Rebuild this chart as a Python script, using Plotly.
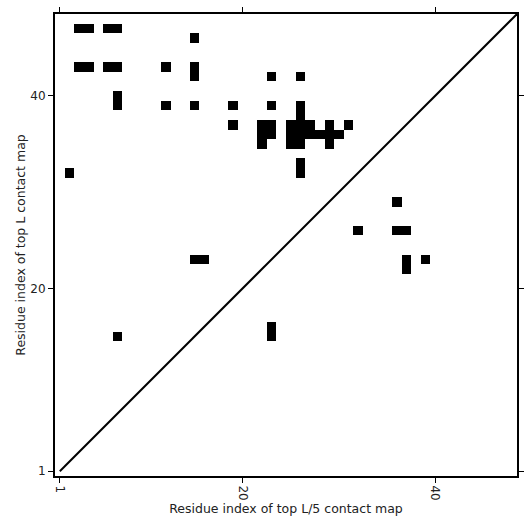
import numpy as np
import plotly.graph_objects as go

L = 48
# Upper triangle: top L contacts (x, y)
top_L_x = [3, 4, 6, 7, 15, 3, 4, 6, 7, 12, 15, 15, 23, 26, 7, 7, 12, 15, 19, 23, 26, 26,
           19, 22, 23, 25, 26, 27, 29, 31, 22, 23, 25, 26, 27, 28, 29, 30, 22, 25, 26, 29,
           26, 26, 2, 15, 16, 7]
top_L_y = [47, 47, 47, 47, 46, 43, 43, 43, 43, 43, 43, 42, 42, 42, 40, 39, 39, 39, 39, 39, 39, 38,
           37, 37, 37, 37, 37, 37, 37, 37, 36, 36, 36, 36, 36, 36, 36, 36, 35, 35, 35, 35,
           33, 32, 32, 23, 23, 15]
# Lower triangle: top L/5 contacts (x, y)
top_L5_x = [36, 36, 37, 32, 37, 37, 39, 23, 23]
top_L5_y = [29, 26, 26, 26, 23, 22, 23, 16, 15]

idx = list(range(1, L + 1))
z = np.zeros((L, L))
for xs, ys in ((top_L_x, top_L_y), (top_L5_x, top_L5_y)):
    for x, y in zip(xs, ys):
        z[y - 1, x - 1] = 1

fig = go.Figure()
fig.add_trace(go.Heatmap(z=z, x=idx, y=idx, colorscale=[[0, "white"], [1, "black"]],
                         showscale=False, zmin=0, zmax=1, hoverinfo="skip"))
diag = [1, L + 0.5]
fig.add_trace(go.Scatter(x=diag, y=diag, mode="lines",
                         line=dict(color="black", width=2), showlegend=False))

font = dict(family="DejaVu Sans", size=12.5, color="#222")
axis_common = dict(range=[0.5, L + 0.5], tickvals=[1, 20, 40], showgrid=False, zeroline=False,
                   showline=True, linecolor="black", linewidth=2, mirror="ticks",
                   ticks="outside", ticklen=5, tickwidth=1, tickcolor="black",
                   tickfont=dict(family="DejaVu Sans", size=12, color="#222"),
                   automargin=False)
fig.update_layout(
    width=531, height=531,
    margin=dict(l=55, r=14, t=14, b=55),
    plot_bgcolor="white", paper_bgcolor="white",
    showlegend=False,
    xaxis=dict(**axis_common, tickangle=90,
               title=dict(text="Residue index of top L/5 contact map", font=font, standoff=2)),
    yaxis=dict(**axis_common,
               title=dict(text="Residue index of top L contact map", font=font, standoff=2)),
)
fig.write_html("out.html", config={"displayModeBar": False},
               post_script="document.body.style.margin='0';document.body.style.overflow='hidden';")
